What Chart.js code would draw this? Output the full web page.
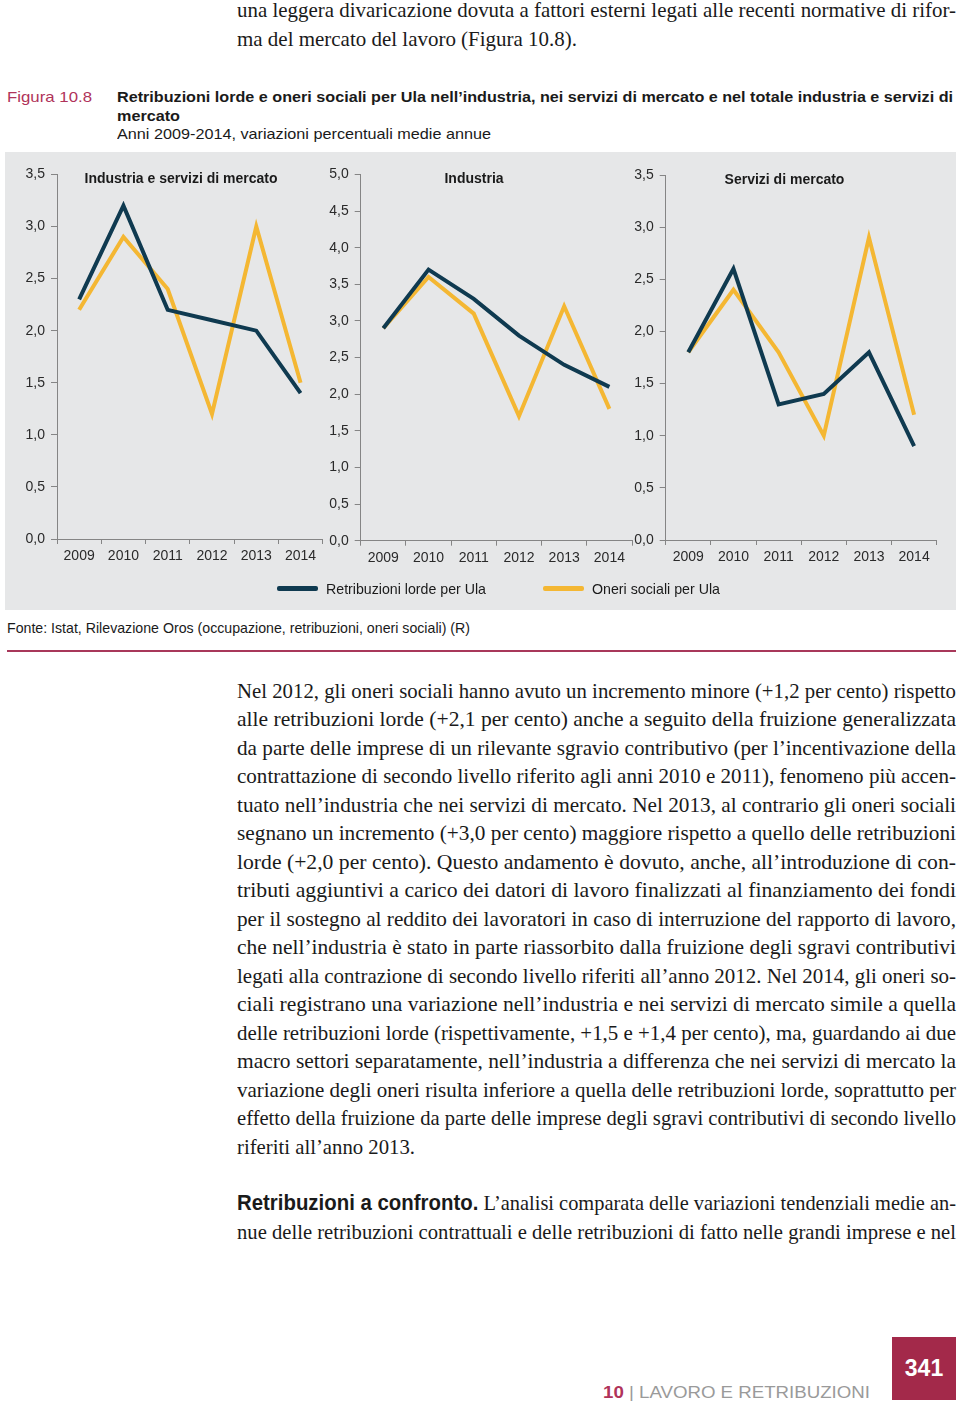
<!DOCTYPE html>
<html lang="it">
<head>
<meta charset="utf-8">
<title>Figura 10.8 - Retribuzioni lorde e oneri sociali per Ula</title>
<script src="https://cdn.jsdelivr.net/npm/chart.js@4.4.1/dist/chart.umd.min.js"></script>
<style>
  body { margin: 0; background: #fff; }
  #page { position: relative; width: 960px; height: 1403px; overflow: hidden; background: #fff; }
  .ln { position: absolute; white-space: nowrap; transform-origin: 0 50%; color: #1a1a1a; }
  .serif { font-family: "Liberation Serif", "Times New Roman", serif; font-size: 22px; line-height: 22px; }
  .sans { font-family: "Liberation Sans", Arial, sans-serif; }
  .cap { font-size: 15px; line-height: 15px; }
  .crimson { color: #b0335a; }
  #figbg { position: absolute; left: 5px; top: 152px; width: 951px; height: 458px; background: #e6e7e8; }
  canvas { position: absolute; }
  .swatch { position: absolute; height: 5px; width: 41px; border-radius: 2px; }
  #rule { position: absolute; left: 7px; top: 650px; width: 949px; height: 2px; background: #a8385a; }
  #pagebox { position: absolute; left: 892px; top: 1337px; width: 64px; height: 63px; background: #a3294a;
             color: #fff; font: bold 23px "Liberation Sans", Arial, sans-serif; text-align: center; line-height: 63px; }
</style>
</head>
<body>
<div id="page">
  <div id="figbg"></div>
  <canvas id="chartTotale" width="330" height="410" style="left:0px;top:160px"></canvas>
  <canvas id="chartIndustria" width="320" height="410" style="left:320px;top:160px"></canvas>
  <canvas id="chartServizi" width="331" height="410" style="left:625px;top:160px"></canvas>
  <div class="swatch" style="left:277px;top:586px;background:#0f3a50"></div>
  <div class="swatch" style="left:543px;top:586px;background:#f4b733"></div>
  <div id="rule"></div>
  <div id="pagebox">341</div>
</div>
<script>
// Valori (variazioni percentuali medie annue)
const years = ['2009', '2010', '2011', '2012', '2013', '2014'];

const retribTotale = [2.3, 3.2, 2.2, 2.1, 2.0, 1.4];
const oneriTotale = [2.2, 2.9, 2.4, 1.2, 3.0, 1.5];

const retribIndustria = [2.9, 3.7, 3.3, 2.8, 2.4, 2.1];
const oneriIndustria = [2.9, 3.6, 3.1, 1.7, 3.2, 1.8];

const retribServizi = [1.8, 2.6, 1.3, 1.4, 1.8, 0.9];
const oneriServizi = [1.8, 2.4, 1.8, 1.0, 2.9, 1.2];

const ticksTotale = ['0,0', '0,5', '1,0', '1,5', '2,0', '2,5', '3,0', '3,5'];
const ticksIndustria = ['0,0', '0,5', '1,0', '1,5', '2,0', '2,5', '3,0', '3,5', '4,0', '4,5', '5,0'];
const ticksServizi = ['0,0', '0,5', '1,0', '1,5', '2,0', '2,5', '3,0', '3,5'];

const seriesNames = ['Retribuzioni lorde per Ula', 'Oneri sociali per Ula'];

const DARK = '#0f3a50';
const YELLOW = '#f4b733';
const AXIS = '#858585';
const FONT = '"Liberation Sans", Arial, sans-serif';

Chart.defaults.font.family = FONT;

// titolo del pannello disegnato dentro l'area del grafico
const panelTitle = {
    id: 'panelTitle',
    afterDraw(chart, args, opts) {
        const ctx = chart.ctx;
        ctx.save();
        ctx.font = 'bold 14px ' + FONT;
        ctx.fillStyle = '#1a1a1a';
        ctx.textAlign = 'center';
        ctx.textBaseline = 'middle';
        ctx.fillText(opts.text, opts.x, opts.y);
        ctx.restore();
    }
};

function makePanel(canvasId, retrib, oneri, tickLabels, box) {
    const yMax = (tickLabels.length - 1) * 0.5;
    return new Chart(document.getElementById(canvasId), {
        type: 'line',
        data: {
            labels: years,
            datasets: [
                { label: seriesNames[0], data: retrib, borderColor: DARK, backgroundColor: DARK },
                { label: seriesNames[1], data: oneri, borderColor: YELLOW, backgroundColor: YELLOW }
            ]
        },
        options: {
            responsive: false,
            animation: false,
            layout: { padding: { top: box.top, right: box.right, left: 0, bottom: 0 } },
            elements: {
                line: { borderWidth: 4, tension: 0, borderCapStyle: 'butt', borderJoinStyle: 'miter', fill: false },
                point: { radius: 0, hoverRadius: 0 }
            },
            plugins: {
                legend: { display: false },
                tooltip: { enabled: false },
                panelTitle: { text: box.title, x: box.titleX, y: box.titleY }
            },
            scales: {
                x: {
                    offset: true,
                    grid: { offset: true, drawOnChartArea: false, tickLength: 5, color: AXIS },
                    border: { color: AXIS },
                    ticks: { padding: 4, color: '#2a2a2a', font: { size: 14 }, maxRotation: 0, autoSkip: false },
                    afterFit: s => { s.height = box.xH; }
                },
                y: {
                    min: 0,
                    max: yMax,
                    grid: { drawOnChartArea: false, tickLength: 6, color: AXIS },
                    border: { color: AXIS },
                    ticks: {
                        stepSize: 0.5, padding: 6, color: '#2a2a2a', font: { size: 14 },
                        callback: (v, i) => tickLabels[i]
                    },
                    afterFit: s => { s.width = box.yW; }
                }
            }
        },
        plugins: [panelTitle]
    });
}

makePanel('chartTotale', retribTotale, oneriTotale, ticksTotale,
    { title: 'Industria e servizi di mercato', titleX: 181, titleY: 19, top: 12.7, right: 7.3, yW: 57, xH: 31 });
makePanel('chartIndustria', retribIndustria, oneriIndustria, ticksIndustria,
    { title: 'Industria', titleX: 154, titleY: 19, top: 12.7, right: 8, yW: 40.7, xH: 29.3 });
makePanel('chartServizi', retribServizi, oneriServizi, ticksServizi,
    { title: 'Servizi di mercato', titleX: 159.5, titleY: 20, top: 15, right: 19.3, yW: 40.7, xH: 30 });

// Testo della pagina
const bodyLines = [
    'Nel 2012, gli oneri sociali hanno avuto un incremento minore (+1,2 per cento) rispetto',
    'alle retribuzioni lorde (+2,1 per cento) anche a seguito della fruizione generalizzata',
    'da parte delle imprese di un rilevante sgravio contributivo (per l’incentivazione della',
    'contrattazione di secondo livello riferito agli anni 2010 e 2011), fenomeno più accen-',
    'tuato nell’industria che nei servizi di mercato. Nel 2013, al contrario gli oneri sociali',
    'segnano un incremento (+3,0 per cento) maggiore rispetto a quello delle retribuzioni',
    'lorde (+2,0 per cento). Questo andamento è dovuto, anche, all’introduzione di con-',
    'tributi aggiuntivi a carico dei datori di lavoro finalizzati al finanziamento dei fondi',
    'per il sostegno al reddito dei lavoratori in caso di interruzione del rapporto di lavoro,',
    'che nell’industria è stato in parte riassorbito dalla fruizione degli sgravi contributivi',
    'legati alla contrazione di secondo livello riferiti all’anno 2012. Nel 2014, gli oneri so-',
    'ciali registrano una variazione nell’industria e nei servizi di mercato simile a quella',
    'delle retribuzioni lorde (rispettivamente, +1,5 e +1,4 per cento), ma, guardando ai due',
    'macro settori separatamente, nell’industria a differenza che nei servizi di mercato la',
    'variazione degli oneri risulta inferiore a quella delle retribuzioni lorde, soprattutto per',
    'effetto della fruizione da parte delle imprese degli sgravi contributivi di secondo livello',
    'riferiti all’anno 2013.'
];

const page = document.getElementById('page');

function addLine(html, x, cy, width, cls, size) {
    const el = document.createElement('div');
    el.className = 'ln ' + cls;
    el.innerHTML = html;
    page.appendChild(el);
    el.style.left = x + 'px';
    el.style.top = (cy - size * 0.6 + 2) + 'px';
    const natural = el.getBoundingClientRect().width;
    const k = width ? width / natural : 0.86;
    el.style.transform = 'scaleX(' + k + ')';
    return el;
}

addLine('una leggera divaricazione dovuta a fattori esterni legati alle recenti normative di rifor-', 237, 10, 719, 'serif', 22);
addLine('ma del mercato del lavoro (Figura 10.8).', 237, 39, 340, 'serif', 22);

addLine('Figura 10.8', 7, 96, 85, 'sans cap crimson', 15);
addLine('<b>Retribuzioni lorde e oneri sociali per Ula nell’industria, nei servizi di mercato e nel totale industria e servizi di</b>', 117, 96, 836, 'sans cap', 15);
addLine('<b>mercato</b>', 117, 115, 63, 'sans cap', 15);
addLine('Anni 2009-2014, variazioni percentuali medie annue', 117, 133, 374, 'sans cap', 15);

addLine(seriesNames[0], 326, 587, 160, 'sans cap', 14);
addLine(seriesNames[1], 592, 587, 128, 'sans cap', 14);
addLine('Fonte: Istat, Rilevazione Oros (occupazione, retribuzioni, oneri sociali) (R)', 7, 626, 463, 'sans cap', 14);

bodyLines.forEach((t, i) => {
    const last = i === bodyLines.length - 1;
    addLine(t, 237, 691 + 28.5 * i, last ? 178 : 719, 'serif', 22);
});

addLine('<b class="sans">Retribuzioni a confronto.</b> L’analisi comparata delle variazioni tendenziali medie an-', 237, 1203, 719, 'serif', 22);
addLine('nue delle retribuzioni contrattuali e delle retribuzioni di fatto nelle grandi imprese e nel', 237, 1232, 719, 'serif', 22);

addLine('<span class="crimson" style="font-weight:bold">10</span><span style="color:#9a9a9a"> | LAVORO E RETRIBUZIONI</span>', 603, 1393, 267, 'sans', 18);
</script>
</body>
</html>
